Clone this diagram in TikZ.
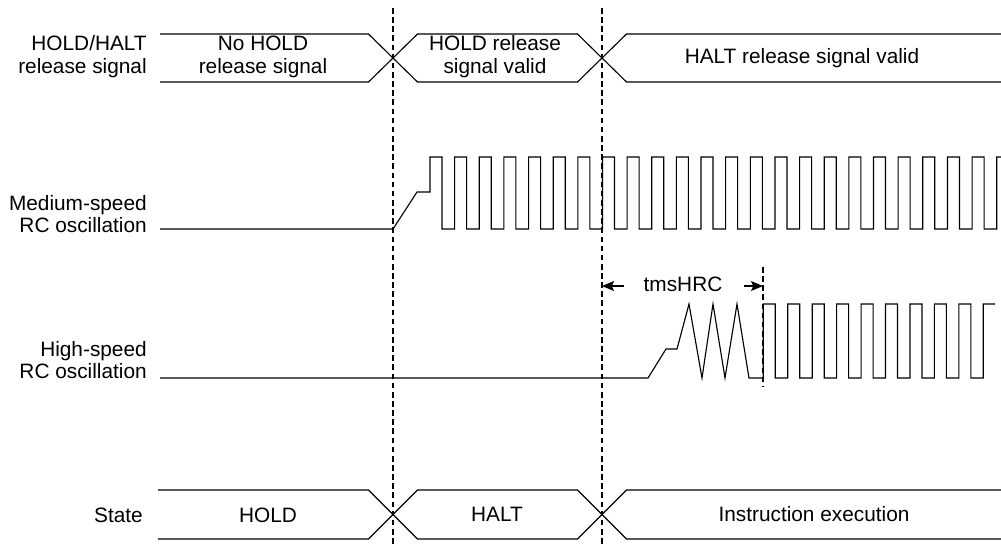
\documentclass[tikz,border=0pt]{standalone}
\usepackage{fontspec}
\setmainfont{Liberation Sans}
\usetikzlibrary{arrows.meta}
\tikzset{
	signal/.style={line width=0.8pt,line join=miter},
	bus/.style={line width=0.8pt},
	marker/.style={line width=0.8pt,dash pattern=on 4pt off 2.5pt},
	lbl/.style={align=right,anchor=east,inner sep=0pt},
	txt/.style={align=center,inner sep=0pt},
	timing/.style={line width=0.8pt,-{Stealth[length=8.5pt,width=7pt,inset=1.5pt]}},
}
\begin{document}
\begin{tikzpicture}[x=0.025cm,y=-0.025cm,font=\fontsize{14.8}{16.2}\selectfont]
\useasboundingbox (0,0) rectangle (1001,549);

% time markers
\coordinate (m1) at (393,8);
\coordinate (m1b) at (393,547);
\coordinate (m2) at (602,8);
\coordinate (m2b) at (602,547);
\coordinate (m3) at (763,267);
\coordinate (m3b) at (763,386);
\draw[marker] (m1) -- (m1b);
\draw[marker] (m2) -- (m2b);
\draw[marker] (m3) -- (m3b);

% signal names
\node (sigrel) at (147,57) [lbl] {HOLD/HALT\\release signal};
\node (sigmid) at (147,214) [lbl] {Medium-speed\\RC oscillation};
\node (sighigh) at (147,360) [lbl] {High-speed\\RC oscillation};
\node (sigstate) at (143,515) [lbl] {State};

% release signal
\draw[bus] (160,34) -- (368.5,34) -- (417.5,82) -- (577.5,82) -- (626.5,34) -- (1001,34);
\draw[bus] (160,82) -- (368.5,82) -- (417.5,34) -- (577.5,34) -- (626.5,82) -- (1001,82);
\node (rel1) at (263,57) [txt] {No HOLD\\release signal};
\node (rel2) at (495,57) [txt] {HOLD release\\signal valid};
\node (rel3) at (802,58) [txt] {HALT release signal valid};

% medium-speed RC
\draw[signal] (160,229) -- (393,229) -- (417,192) -- (430,192)
  \foreach \i in {0,...,22} { -- ({430+24.64*\i},157) -- ({442+24.64*\i},157) -- ({442+24.64*\i},229) -- ({454.64+24.64*\i},229) }
  -- (996.7,157) -- (1001,157);

% high-speed RC
\draw[signal] (160,378) -- (648,378) -- (666,349) -- (677,349) -- (689,304) -- (702,378) -- (713,304) -- (725,378) -- (737,304) -- (749,378) -- (763.3,378)
  \foreach \i in {0,...,8} { -- ({763.3+24.44*\i},304) -- ({775.3+24.44*\i},304) -- ({775.3+24.44*\i},378) -- ({787.74+24.44*\i},378) }
  -- (983.3,304) -- (995,304);

% tmsHRC
\node (tms) at (683,284) {tmsHRC};
\coordinate (a1) at (624,286);
\coordinate (a2) at (744,286);
\draw[timing] (a1) -- (a1 -| m2);
\draw[timing] (a2) -- (a2 -| m3);

% state
\draw[bus] (158,490) -- (368.5,490) -- (417.5,539) -- (577.5,539) -- (626.5,490) -- (1001,490);
\draw[bus] (158,539) -- (368.5,539) -- (417.5,490) -- (577.5,490) -- (626.5,539) -- (1001,539);
\node (st1) at (268,515) [txt] {HOLD};
\node (st2) at (497,514) [txt] {HALT};
\node (st3) at (814,514) [txt] {Instruction execution};
\end{tikzpicture}
\end{document}
